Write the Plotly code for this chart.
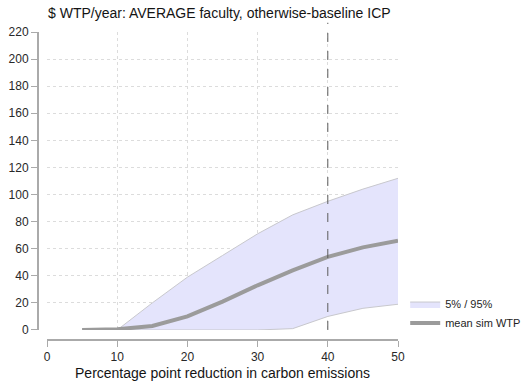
import plotly.graph_objects as go

# Percentage-point reduction in carbon emissions
reduction = [5, 10, 15, 20, 25, 30, 35, 40, 45, 50]
# Simulated willingness-to-pay ($/year)
wtp_mean = [0, 0.5, 3, 10, 21, 33, 44, 54, 61, 66]
wtp_p05 = [0, 0, 0, 0, 0, 0, 1, 10, 16, 19]
wtp_p95 = [0, 0, 20, 39, 55, 71, 85, 95, 104, 112]

y_ticks = list(range(0, 221, 20))
x_ticks = list(range(0, 51, 10))
policy_target = 40

band_fill = "rgba(228,228,252,1)"
band_edge = "rgb(200,200,205)"
mean_color = "rgb(155,155,155)"
axis_color = "rgb(170,170,170)"
grid_color = "rgb(220,220,220)"
font_family = "Liberation Sans, Arial, sans-serif"

fig = go.Figure()

fig.add_trace(go.Scatter(
    x=reduction, y=wtp_p05, mode="lines",
    line=dict(color=band_edge, width=1),
    showlegend=False, hoverinfo="skip",
))
fig.add_trace(go.Scatter(
    x=reduction, y=wtp_p95, mode="lines",
    line=dict(color=band_edge, width=1),
    fill="tonexty", fillcolor=band_fill,
    name="5% / 95%",
))
fig.add_trace(go.Scatter(
    x=reduction, y=wtp_mean, mode="lines",
    line=dict(color=mean_color, width=4),
    name="mean sim WTP",
))

fig.add_shape(
    type="line", xref="x", yref="paper",
    x0=policy_target, x1=policy_target, y0=0.0325, y1=1.03,
    line=dict(color="rgb(90,90,90)", width=1, dash="dash"),
    layer="above",
)

fig.update_layout(
    width=525, height=385,
    margin=dict(l=38, r=127, t=32, b=45, autoexpand=False),
    paper_bgcolor="white", plot_bgcolor="white",
    font=dict(family=font_family, size=12, color="rgb(40,40,40)"),
    title=dict(
        text="$ WTP/year: AVERAGE faculty, otherwise-baseline ICP",
        x=48 / 525, xanchor="left", y=1 - 13 / 385, yanchor="middle",
        font=dict(size=14, color="rgb(20,20,20)"),
    ),
    xaxis=dict(
        range=[0, 50], domain=[0.025, 1],
        anchor="free", position=0, automargin=False,
        tickvals=x_ticks, ticks="outside", ticklen=6, tickwidth=1,
        tickcolor=axis_color,
        showline=True, linecolor=axis_color, linewidth=2,
        showgrid=True, gridcolor=grid_color, griddash="dot", gridwidth=1,
        zeroline=False,
        title=dict(text="Percentage point reduction in carbon emissions",
                   font=dict(size=14, color="rgb(20,20,20)"), standoff=4),
        tickfont=dict(size=12),
    ),
    yaxis=dict(
        range=[0, 220], domain=[0.0325, 1],
        anchor="free", position=0, automargin=False,
        tickvals=y_ticks, ticks="outside", ticklen=6, tickwidth=1,
        tickcolor=axis_color,
        showline=True, linecolor=axis_color, linewidth=2,
        showgrid=True, gridcolor=grid_color, griddash="dot", gridwidth=1,
        zeroline=False,
        tickfont=dict(size=12),
    ),
    legend=dict(
        x=1.02, xanchor="left", y=0.008, yanchor="bottom",
        traceorder="normal", itemwidth=30,
        font=dict(size=11, color="rgb(30,30,30)"),
        bgcolor="rgba(0,0,0,0)", tracegroupgap=3,
    ),
)

fig.write_html("out.html")
